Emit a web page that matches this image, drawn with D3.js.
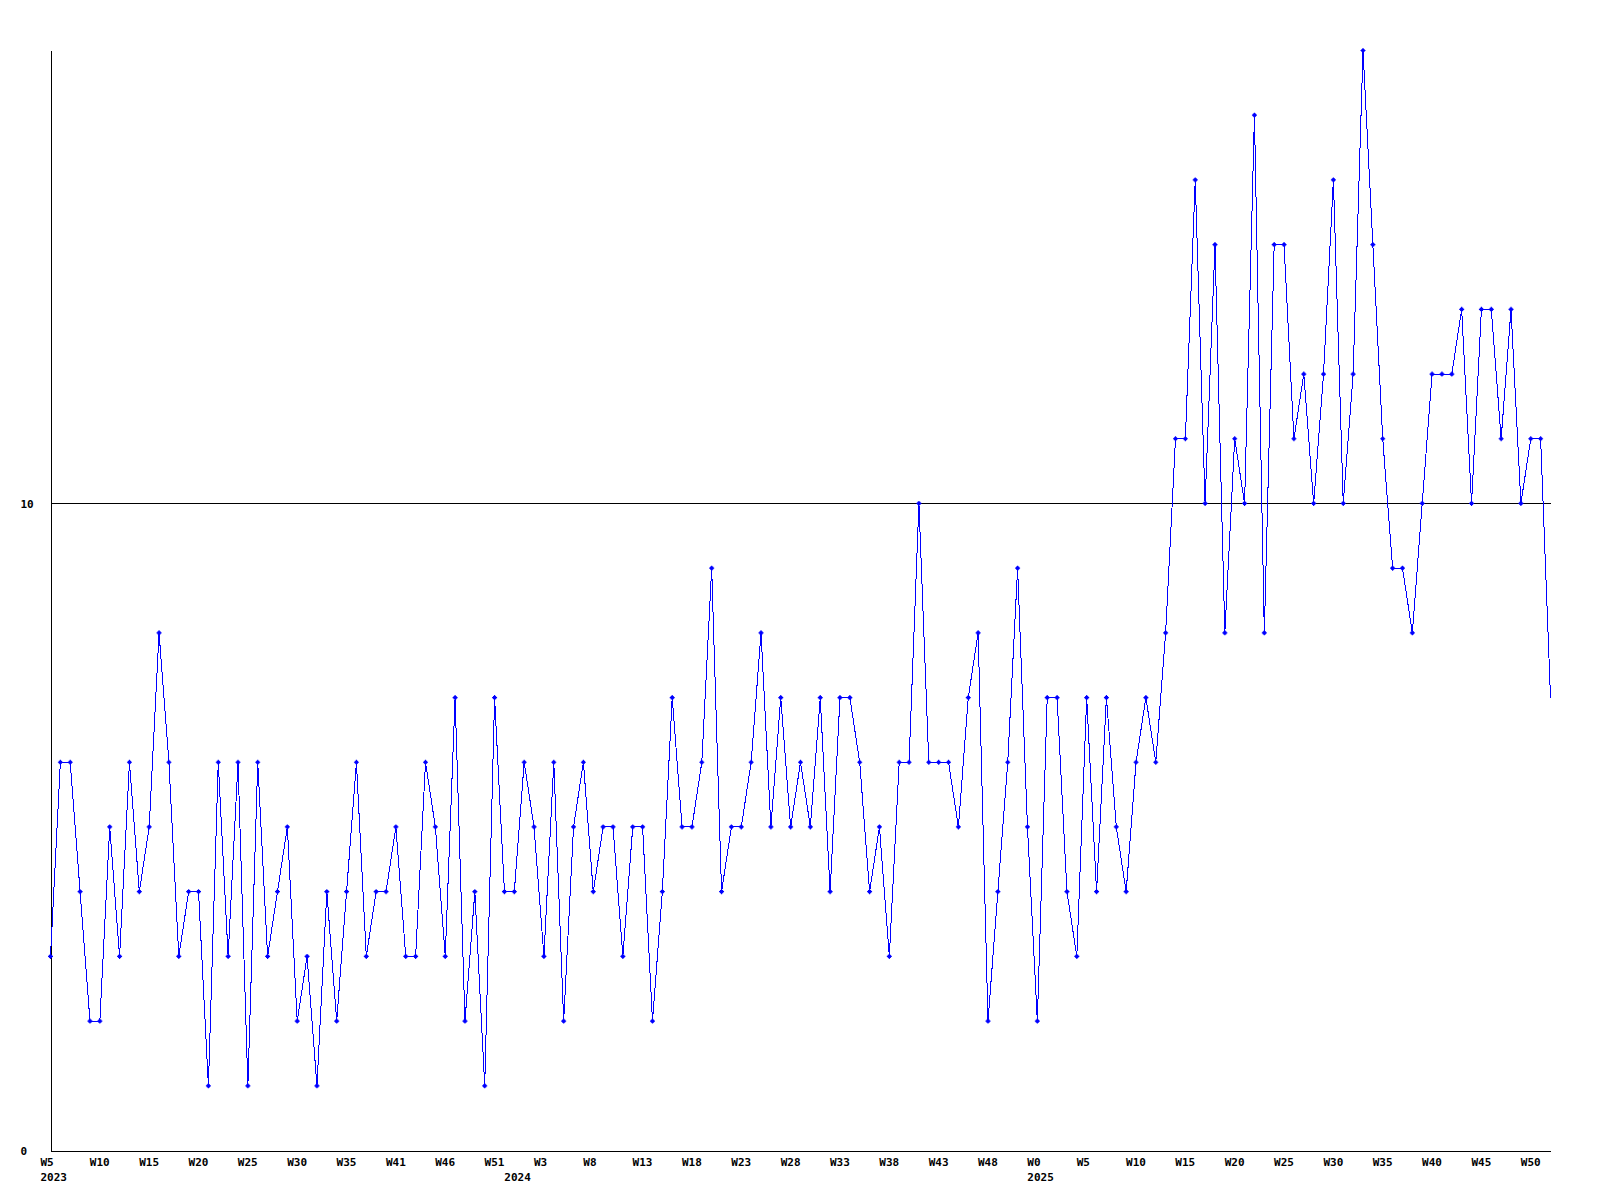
<!DOCTYPE html>
<html>
<head>
<meta charset="utf-8">
<script src="https://cdn.jsdelivr.net/npm/d3@7/dist/d3.min.js"></script>
<style>
  body { margin: 0; background: #fff; }
  svg text { font-family: "DejaVu Sans Mono", monospace; font-weight: bold; font-size: 11px; fill: #000; }
</style>
</head>
<body>
<svg id="chart"></svg>
<script>
let width = 1600;
let height = 1200;
let margin = {top: 50, right: 50, bottom: 50, left: 50};

// weekly values, 2023 W5 .. 2025 (last week still open)
let values = [
  3, 6, 6, 4, 2, 2, 5, 3, 6, 4, 5, 8, 6, 3, 4, 4, 1, 6, 3, 6,
  1, 6, 3, 4, 5, 2, 3, 1, 4, 2, 4, 6, 3, 4, 4, 5, 3, 3, 6, 5,
  3, 7, 2, 4, 1, 7, 4, 4, 6, 5, 3, 6, 2, 5, 6, 4, 5, 5, 3, 5,
  5, 2, 4, 7, 5, 5, 6, 9, 4, 5, 5, 6, 8, 5, 7, 5, 6, 5, 7, 4,
  7, 7, 6, 4, 5, 3, 6, 6, 10, 6, 6, 6, 5, 7, 8, 2, 4, 6, 9, 5,
  2, 7, 7, 4, 3, 7, 4, 7, 5, 4, 6, 7, 6, 8, 11, 11, 15, 10, 14, 8,
  11, 10, 16, 8, 14, 14, 11, 12, 10, 12, 15, 10, 12, 17, 14, 11, 9, 9, 8, 10,
  12, 12, 12, 13, 10, 13, 13, 11, 13, 10, 11, 11, 7
];

// a label every 5th week
let weekLabels = [
  "W5", "W10", "W15", "W20", "W25", "W30", "W35", "W41", "W46", "W51",
  "W3", "W8", "W13", "W18", "W23", "W28", "W33", "W38", "W43", "W48",
  "W0", "W5", "W10", "W15", "W20", "W25", "W30", "W35", "W40", "W45", "W50"
];
let labelStep = 5;

let years = ["2023", "2024", "2025"];
let yearFirstWeek = [0, 47, 100];

let yTicks = [0, 10];
let yMax = 17;

let svg = d3.select("#chart")
    .attr("width", width)
    .attr("height", height);

let g = svg.append("g").attr("transform", "translate(0.5,0.5)");

let x = d3.scaleLinear().domain([0, values.length - 1]).range([margin.left, width - margin.right]);
let y = d3.scaleLinear().domain([0, yMax]).range([height - margin.bottom, margin.top]);

// reference line at 10
let grid = g.append("g")
    .attr("transform", `translate(${margin.left},0)`)
    .call(d3.axisLeft(y).tickValues([10]).tickSize(-(width - margin.left - margin.right)).tickFormat(""));
grid.select(".domain").remove();
grid.selectAll("line").attr("stroke", "#000").attr("shape-rendering", "crispEdges");

// x axis with week labels
let xAxis = g.append("g")
    .attr("transform", `translate(0,${height - margin.bottom})`)
    .call(d3.axisBottom(x)
        .tickValues(d3.range(0, values.length, labelStep))
        .tickFormat((d, i) => weekLabels[i])
        .tickSize(0).tickSizeOuter(0));
xAxis.select(".domain").attr("stroke", "#000").attr("shape-rendering", "crispEdges");
xAxis.selectAll("text")
    .attr("text-anchor", "start")
    .attr("x", -10.5)
    .attr("y", 15)
    .attr("dy", 0)
    .attr("fill", "#000");

// year labels
let yearAxis = g.append("g")
    .attr("transform", `translate(0,${height - margin.bottom})`)
    .call(d3.axisBottom(x)
        .tickValues(yearFirstWeek)
        .tickFormat((d, i) => years[i])
        .tickSize(0).tickSizeOuter(0));
yearAxis.select(".domain").remove();
yearAxis.selectAll("text")
    .attr("text-anchor", "start")
    .attr("x", -10.5)
    .attr("y", 30.5)
    .attr("dy", 0)
    .attr("fill", "#000");

// y axis
let yAxis = g.append("g")
    .attr("transform", `translate(${margin.left},0)`)
    .call(d3.axisLeft(y).tickValues(yTicks).tickFormat(d3.format("d")).tickSize(0).tickSizeOuter(0));
yAxis.select(".domain").attr("stroke", "#000").attr("shape-rendering", "crispEdges");
yAxis.selectAll("text")
    .attr("text-anchor", "start")
    .attr("x", 20 - margin.left)
    .attr("dy", "0.35em")
    .attr("fill", "#000");

// data line
let line = d3.line()
    .x((d, i) => x(i))
    .y(d => y(d));

g.append("path")
    .datum(values)
    .attr("fill", "none")
    .attr("stroke", "#0000ff")
    .attr("stroke-width", 1)
    .attr("shape-rendering", "crispEdges")
    .attr("d", line);

// markers (last, still open week has none)
let marks = g.append("g").attr("class", "nodes");
marks.selectAll("path")
    .data(values.slice(0, -1))
    .join("path")
    .attr("transform", (d, i) => `translate(${x(i)},${y(d)})`)
    .attr("d", "M-2.5,0H2.5M0,-2.5V2.5M-1,-1H1V1H-1Z")
    .attr("stroke", "#0000ff")
    .attr("stroke-width", 1.2)
    .attr("fill", "#0000ff");
</script>
</body>
</html>
